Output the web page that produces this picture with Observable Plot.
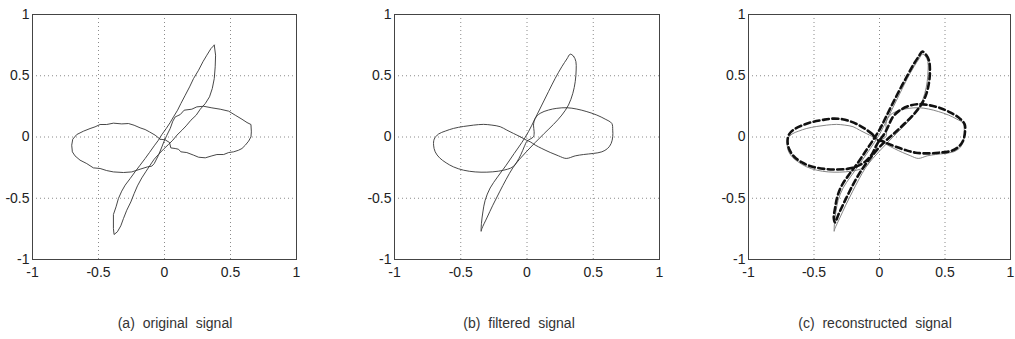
<!DOCTYPE html>
<html><head><meta charset="utf-8">
<script src="https://cdn.jsdelivr.net/npm/d3@7"></script>
<script src="https://cdn.jsdelivr.net/npm/@observablehq/plot@0.6"></script>
<style>
body{margin:0;background:#fff;}
#wrap{position:relative;width:1015px;height:339px;overflow:hidden;font-family:"Liberation Sans",Arial,sans-serif;background:#fff;}
.panel{position:absolute;top:0;}
.cap{position:absolute;top:315px;font-size:14px;color:#333;white-space:pre;transform:translateX(-50%);word-spacing:4px;}
</style></head><body><div id="wrap"></div>
<script>
// axis ticks
const tickValues = [-1, -0.5, 0, 0.5, 1];
const tickLabels = ["-1", "-0.5", "0", "0.5", "1"];
const gridValues = [-0.5, 0, 0.5];
const captions = ["(a) original signal", "(b) filtered signal", "(c) reconstructed signal"];

// (a) original signal: figure-eight loop and diagonal loop
const originalEight = [
[-0.033,-0.018],[-0.071,0.015],[-0.114,0.042],[-0.147,0.061],[-0.185,0.075],[-0.230,0.096],[-0.273,0.110],
[-0.324,0.107],[-0.387,0.113],[-0.438,0.102],[-0.488,0.102],[-0.526,0.083],[-0.564,0.069],[-0.615,0.047],
[-0.665,0.020],[-0.695,-0.018],[-0.703,-0.067],[-0.698,-0.121],[-0.678,-0.154],[-0.640,-0.189],[-0.589,-0.217],
[-0.539,-0.252],[-0.488,-0.257],[-0.438,-0.274],[-0.387,-0.285],[-0.311,-0.290],[-0.248,-0.285],[-0.185,-0.263],
[-0.129,-0.244],[-0.096,-0.238],[-0.078,-0.217],[-0.046,-0.150],[-0.020,-0.081],[-0.003,-0.034],[0.018,0.015],
[0.043,0.069],[0.063,0.129],[0.081,0.164],[0.119,0.183],[0.149,0.219],[0.207,0.227],[0.245,0.246],[0.296,0.251],
[0.359,0.238],[0.422,0.227],[0.486,0.211],[0.536,0.178],[0.587,0.145],[0.625,0.118],[0.655,0.102],[0.658,0.042],
[0.655,0.001],[0.637,-0.034],[0.612,-0.067],[0.587,-0.094],[0.561,-0.108],[0.524,-0.121],[0.486,-0.127],
[0.448,-0.143],[0.397,-0.143],[0.359,-0.154],[0.309,-0.170],[0.258,-0.165],[0.220,-0.148],[0.169,-0.127],
[0.124,-0.121],[0.106,-0.100],[0.081,-0.094],[0.048,-0.089],[0.038,-0.045],[0.005,-0.023],[-0.033,-0.018]
];
const originalDiag = [
[0.377,0.750],[0.387,0.668],[0.384,0.573],[0.377,0.477],[0.362,0.396],[0.341,0.328],[0.309,0.273],[0.271,0.227],
[0.240,0.178],[0.200,0.137],[0.164,0.091],[0.132,0.055],[0.094,0.015],[0.063,-0.026],[0.030,-0.061],[-0.008,-0.100],
[-0.046,-0.143],[-0.078,-0.181],[-0.109,-0.230],[-0.139,-0.279],[-0.172,-0.334],[-0.205,-0.399],[-0.230,-0.462],
[-0.255,-0.530],[-0.286,-0.598],[-0.311,-0.666],[-0.331,-0.725],[-0.357,-0.774],[-0.382,-0.796],[-0.387,-0.747],
[-0.387,-0.633],[-0.367,-0.570],[-0.349,-0.502],[-0.324,-0.442],[-0.298,-0.393],[-0.260,-0.339],[-0.223,-0.284],
[-0.185,-0.230],[-0.147,-0.176],[-0.114,-0.127],[-0.078,-0.072],[-0.046,-0.026],[-0.020,0.020],[0.013,0.069],
[0.043,0.118],[0.068,0.164],[0.099,0.219],[0.124,0.273],[0.157,0.341],[0.190,0.409],[0.220,0.477],[0.258,0.545],
[0.291,0.614],[0.321,0.668],[0.352,0.722],[0.377,0.750]
];

// (b) filtered signal
const filteredEight = [
[-0.006,-0.025],[-0.051,0.002],[-0.102,0.029],[-0.152,0.056],[-0.202,0.084],[-0.265,0.097],[-0.328,0.103],
[-0.403,0.097],[-0.479,0.086],[-0.555,0.070],[-0.617,0.048],[-0.668,0.024],[-0.700,-0.017],[-0.705,-0.066],
[-0.693,-0.121],[-0.660,-0.170],[-0.610,-0.211],[-0.555,-0.244],[-0.479,-0.271],[-0.391,-0.285],[-0.303,-0.287],
[-0.215,-0.279],[-0.147,-0.263],[-0.107,-0.244],[-0.076,-0.203],[-0.046,-0.143],[-0.021,-0.080],[0.000,-0.034],
[0.024,-0.017],[0.049,0.002],[0.054,0.043],[0.049,0.097],[0.062,0.152],[0.099,0.193],[0.162,0.220],[0.225,0.234],
[0.301,0.239],[0.376,0.228],[0.452,0.207],[0.527,0.179],[0.590,0.146],[0.640,0.111],[0.647,0.056],[0.647,0.002],
[0.635,-0.053],[0.608,-0.094],[0.565,-0.121],[0.502,-0.134],[0.427,-0.143],[0.364,-0.154],[0.296,-0.175],
[0.238,-0.154],[0.175,-0.126],[0.112,-0.094],[0.062,-0.066],[0.024,-0.039]
];
const filteredDiag = [
[0.326,0.676],[0.351,0.660],[0.369,0.616],[0.371,0.547],[0.364,0.452],[0.346,0.357],[0.313,0.261],[0.263,0.179],
[0.200,0.103],[0.130,0.029],[0.062,-0.045],[-0.001,-0.116],[-0.056,-0.181],[-0.107,-0.252],[-0.157,-0.345],
[-0.207,-0.448],[-0.258,-0.557],[-0.303,-0.661],[-0.341,-0.749],[-0.346,-0.770],[-0.344,-0.708],[-0.333,-0.612],
[-0.316,-0.517],[-0.278,-0.416],[-0.222,-0.326],[-0.157,-0.230],[-0.097,-0.135],[-0.039,-0.045],[0.011,0.043],
[0.062,0.152],[0.112,0.261],[0.162,0.370],[0.213,0.479],[0.263,0.574],[0.301,0.637]
];

// (c) reconstructed signal (dashed)
const reconEight = [
[-0.016,-0.025],[-0.054,0.022],[-0.105,0.063],[-0.156,0.096],[-0.219,0.126],[-0.283,0.145],[-0.359,0.150],
[-0.435,0.139],[-0.512,0.123],[-0.588,0.096],[-0.651,0.063],[-0.690,0.022],[-0.702,-0.033],[-0.689,-0.101],
[-0.651,-0.161],[-0.588,-0.210],[-0.512,-0.243],[-0.423,-0.260],[-0.334,-0.265],[-0.245,-0.260],[-0.169,-0.238],
[-0.105,-0.197],[-0.059,-0.142],[-0.029,-0.079],[-0.004,-0.033],[0.035,0.022],[0.068,0.090],[0.098,0.158],
[0.149,0.213],[0.212,0.249],[0.289,0.268],[0.365,0.262],[0.454,0.240],[0.543,0.199],[0.614,0.150],[0.650,0.104],
[0.652,0.036],[0.637,-0.033],[0.601,-0.082],[0.543,-0.115],[0.454,-0.128],[0.365,-0.134],[0.276,-0.128],
[0.199,-0.107],[0.123,-0.079],[0.060,-0.052],[0.017,-0.033]
];
const reconDiag = [
[0.327,0.697],[0.357,0.669],[0.378,0.623],[0.385,0.541],[0.378,0.445],[0.357,0.350],[0.321,0.268],[0.262,0.186],
[0.194,0.112],[0.123,0.041],[0.052,-0.027],[-0.016,-0.101],[-0.075,-0.178],[-0.125,-0.251],[-0.181,-0.347],
[-0.232,-0.451],[-0.278,-0.552],[-0.314,-0.634],[-0.339,-0.697],[-0.349,-0.661],[-0.339,-0.579],[-0.321,-0.484],
[-0.288,-0.396],[-0.232,-0.306],[-0.169,-0.216],[-0.105,-0.115],[-0.049,-0.025],[0.002,0.063],[0.047,0.158],
[0.098,0.268],[0.154,0.385],[0.212,0.500],[0.262,0.596],[0.300,0.658]
];

const fmt = d => tickLabels[tickValues.indexOf(d)];
const wrap = document.getElementById("wrap");

function panel(left, ml, mr, lineMarks) {
  const svg = Plot.plot({
    width: 338, height: 290,
    marginLeft: ml, marginRight: mr, marginTop: 14, marginBottom: 31,
    style: {fontSize: "14px", fontFamily: '"Liberation Sans", Arial, sans-serif', color: "#222", background: "transparent", overflow: "visible"},
    x: {domain: [-1, 1], ticks: tickValues, tickFormat: fmt, tickSize: 0, tickPadding: 8, label: null},
    y: {domain: [-1, 1], ticks: tickValues, tickFormat: fmt, tickSize: 0, tickPadding: 3, label: null},
    marks: [
      Plot.gridX(gridValues, {stroke: "#8a8a8a", strokeOpacity: 1, strokeDasharray: "1,3"}),
      Plot.gridY(gridValues, {stroke: "#8a8a8a", strokeOpacity: 1, strokeDasharray: "1,3"}),
      Plot.frame({stroke: "#444", strokeWidth: 1}),
      ...lineMarks
    ]
  });
  svg.classList.add("panel");
  svg.style.left = left + "px";
  wrap.appendChild(svg);
}

const thin = {x: d => d[0], y: d => d[1], stroke: "#333", strokeWidth: 0.9};
panel(0, 32, 42, [
  Plot.line(originalEight, {...thin, curve: "linear"}),
  Plot.line(originalDiag, {...thin, curve: "linear"})
]);
panel(340, 54, 19, [
  Plot.line(filteredEight, {...thin, curve: "catmull-rom-closed"}),
  Plot.line(filteredDiag, {...thin, curve: "catmull-rom-closed"})
]);
const soft = {x: d => d[0], y: d => d[1], stroke: "#777", strokeWidth: 0.9, curve: "catmull-rom-closed"};
const dash = {x: d => d[0], y: d => d[1], stroke: "#111", strokeWidth: 2.6, strokeDasharray: "6,3.5", curve: "catmull-rom-closed"};
panel(677, 71, 5, [
  Plot.line(filteredEight, soft),
  Plot.line(filteredDiag, soft),
  Plot.line(reconEight, dash),
  Plot.line(reconDiag, dash)
]);

const capX = [175, 519, 875];
captions.forEach((c, i) => {
  const div = document.createElement("div");
  div.className = "cap";
  div.style.left = capX[i] + "px";
  div.textContent = c;
  wrap.appendChild(div);
});
</script></body></html>
